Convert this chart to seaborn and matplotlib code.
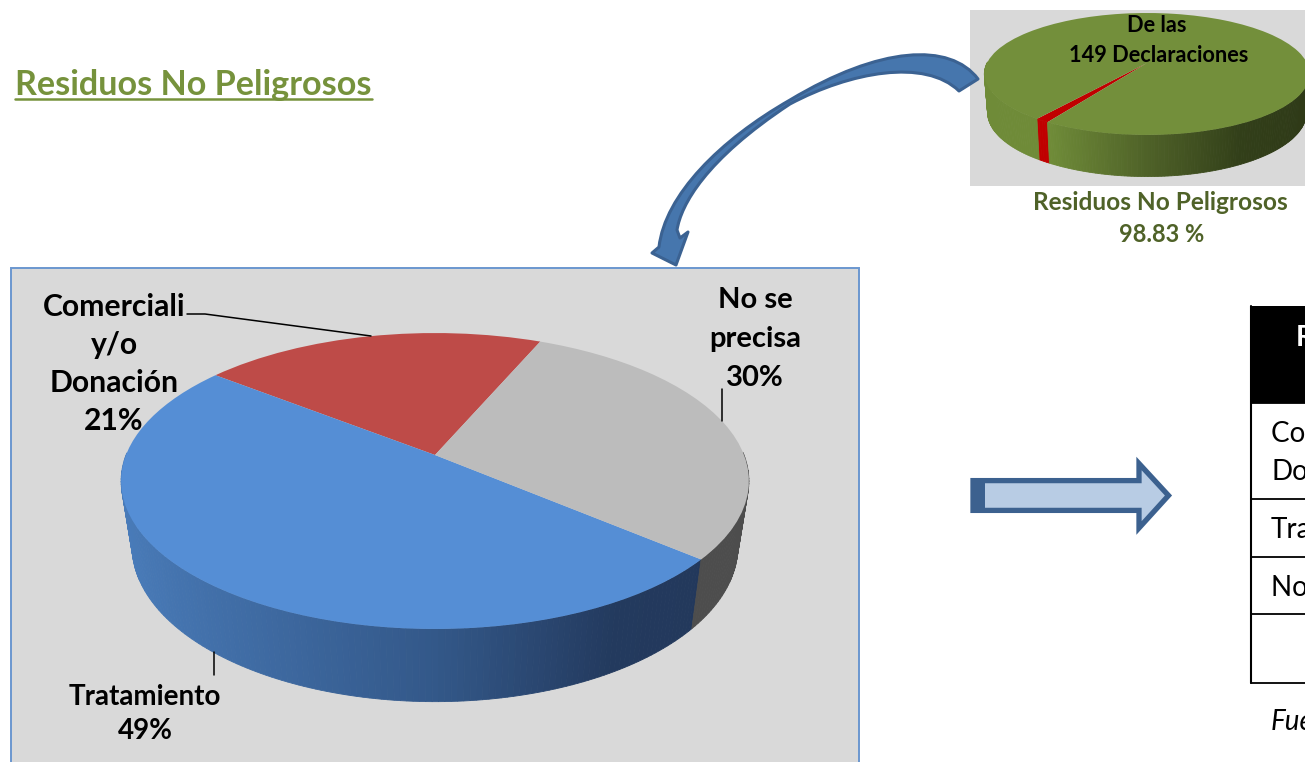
import numpy as np
import seaborn as sns
import matplotlib.pyplot as plt
from matplotlib.patches import PathPatch, Polygon, Rectangle
from matplotlib.path import Path
from matplotlib.transforms import Transform

# data
main_labels = ['Comerciali\ny/o\nDonación', 'Tratamiento', 'No se\nprecisa']
main_shares = [20.9, 49.4, 29.7]
small_names = ['Otros', 'Residuos No Peligrosos']
small_shares = [1.17, 98.83]
table_rows = ['Comercialización y/o\nDonación', 'Tratamiento', 'No se precisa']
table_header = 'Residuos'


class DiscMap(Transform):
    # unit circle -> tilted disc in pixels, near side bigger than far side
    input_dims = 2
    output_dims = 2
    is_separable = False

    def __init__(self, cx, cy, b, a, k, sx=1.0, sy=1.0, dy=0.0):
        super().__init__()
        self.p = (cx, cy, b, a, k, sx, sy, dy)

    def transform_non_affine(self, values):
        cx, cy, b, a, k, sx, sy, dy = self.p
        values = np.asarray(values)
        w = 1 + k * values[:, 1]
        return np.column_stack([cx + sx * b * values[:, 0] / w,
                                cy + dy - sy * a * values[:, 1] / w])


def draw_pie(ax, shares, start, colors, walls, top, bottom):
    wedges = ax.pie(shares, startangle=start, colors=colors,
                    wedgeprops={'linewidth': 0})[0]
    for w in wedges:
        w.set_transform(top + ax.transData)
        w.set_zorder(4)
    # side wall, cut in thin strips following the same angles
    angle = start
    for share, cmap in zip(shares, walls):
        span = 360 * share / sum(shares)
        edges = np.radians(np.linspace(angle, angle + span, max(int(span), 2) + 1))
        for t0, t1 in zip(edges[:-1], edges[1:]):
            if np.sin((t0 + t1) / 2) > 0.02:
                continue  # far side, hidden by the top
            unit = np.array([[np.cos(t0), np.sin(t0)], [np.cos(t1), np.sin(t1)]])
            a = top.transform_non_affine(unit)
            b = bottom.transform_non_affine(unit)
            c = cmap((np.cos((t0 + t1) / 2) + 1) / 2)
            ax.fill([a[0, 0], a[1, 0], b[1, 0], b[0, 0]],
                    [a[0, 1], a[1, 1], b[1, 1], b[0, 1]],
                    color=c, lw=0.6, zorder=3)
        angle += span


def main():
    sns.set_theme(style='white')
    plt.rcParams['font.family'] = ['Lato', 'DejaVu Sans']

    fig = plt.figure(figsize=(13.05, 7.62), dpi=100)
    ax = fig.add_axes([0, 0, 1, 1])

    # panels
    ax.add_patch(Rectangle((11, 268), 848, 520, fc='#d9d9d9', ec='#6b97cf', lw=1.4, zorder=1))
    ax.add_patch(Rectangle((970, 10), 340, 176, fc='#d9d9d9', ec='none', zorder=1))

    # big pie
    main_colors = sns.color_palette(['#be4b48', '#558ed5', '#bcbcbc'])
    main_walls = [sns.blend_palette(['#7d2f2d', '#7d2f2d'], as_cmap=True),
                  sns.blend_palette(['#4a7dbb', '#3f6ba3', '#335889', '#233a5e', '#22375a'], as_cmap=True),
                  sns.blend_palette(['#4d4d4d', '#4d4d4d'], as_cmap=True)]
    draw_pie(ax, main_shares, 66.7, main_colors, main_walls,
             DiscMap(435, 455, 309, 143.4, 0.1757),
             DiscMap(435, 455, 309, 143.4, 0.1757, sx=0.965, sy=1.05, dy=64))

    # small pie
    small_colors = sns.color_palette(['#c00000', '#738f3b'])
    small_walls = [sns.blend_palette(['#c00000', '#c00000'], as_cmap=True),
                   sns.blend_palette(['#6f8b38', '#6f8b38', '#4f6228', '#323f19', '#2e3917'], as_cmap=True)]
    draw_pie(ax, small_shares, 234.0, small_colors, small_walls,
             DiscMap(1147, 63, 160, 59, 0.18),
             DiscMap(1147, 63, 160, 59, 0.18, sx=0.98, sy=1.05, dy=38))

    ax.set_aspect('auto')
    ax.set_xlim(0, 1305)
    ax.set_ylim(762, 0)
    ax.set_frame_on(False)

    # heading
    ax.text(15, 85, 'Residuos No Peligrosos', color='#76923c', fontsize=24.6, fontweight='bold',
            va='center', ha='left', zorder=6)
    ax.plot([15, 372], [99, 99], color='#76923c', lw=1.8, zorder=6)

    # big pie labels
    lab = dict(color='black', fontweight='bold', ha='center', va='center', zorder=6)
    ax.text(114, 364, f'{main_labels[0]}\n{main_shares[0]:.0f}%', fontsize=21.7, linespacing=1.44, **lab)
    ax.text(755, 339, f'{main_labels[2]}\n{main_shares[2]:.0f}%', fontsize=21, linespacing=1.6, **lab)
    ax.text(145, 714, f'{main_labels[1]}\n{main_shares[1]:.0f}%', fontsize=20, linespacing=1.42, **lab)
    ax.plot([187, 205, 371], [314, 314, 336], color='black', lw=1.1, zorder=6)
    ax.plot([722, 722], [389, 421], color='black', lw=1.1, zorder=6)
    ax.plot([214, 214], [652, 675], color='black', lw=1.1, zorder=6)

    # small pie labels
    ax.text(1157, 26, 'De las', fontsize=15.7, **lab)
    ax.text(1159, 55, '149 Declaraciones', fontsize=15.7, **lab)
    sub = dict(color='#4f6228', fontweight='bold', ha='center', va='center', zorder=6)
    ax.text(1160, 203, small_names[1], fontsize=17.6, **sub)
    ax.text(1162, 235, f'{small_shares[1]} %', fontsize=17, **sub)

    # curved arrow
    C4 = Path.CURVE4
    verts = [(978, 79),
             (950, 42), (880, 46), (790, 100),
             (720, 140), (665, 195), (659, 247),
             (652, 253), (676, 265), (688, 232), (680, 238),
             (677, 230),
             (681, 205), (705, 160), (790, 104),
             (850, 72), (925, 58), (959, 91),
             (978, 79)]
    codes = [Path.MOVETO, C4, C4, C4, C4, C4, C4,
             Path.LINETO, Path.LINETO, Path.LINETO, Path.LINETO, Path.LINETO,
             C4, C4, C4, C4, C4, C4, Path.CLOSEPOLY]
    ax.add_patch(PathPatch(Path(verts, codes), fc='#4676ad', ec='#3b6292', lw=2.2,
                           joinstyle='round', zorder=5))

    # block arrow
    ax.add_patch(Polygon([(973, 480.6), (1139, 480.6), (1139, 463.5), (1168.5, 495.5),
                          (1139, 528), (1139, 510.4), (973, 510.4)],
                         closed=True, fc='#b8cce4', ec='#3c618f', lw=3.8, joinstyle='miter', zorder=5))
    ax.add_patch(Rectangle((971, 478), 14, 35, fc='#3c618f', ec='none', zorder=5))

    # table, runs off the page on the right
    ax.add_patch(Rectangle((1251, 306), 80, 97, fc='black', ec='none', zorder=5))
    ax.plot([1251, 1251], [306, 683], color='black', lw=1.5, zorder=5)
    for y in [403, 499, 557, 614, 683]:
        ax.plot([1251, 1320], [y, y], color='black', lw=1.3, zorder=5)
    ax.text(1296, 338, table_header, color='white', fontsize=20, fontweight='bold', ha='left', va='center', zorder=6)
    cell = dict(color='black', fontsize=20, ha='left', va='center', zorder=6)
    ax.text(1271, 453, table_rows[0], linespacing=1.6, **cell)
    ax.text(1271, 530, table_rows[1], **cell)
    ax.text(1271, 588, table_rows[2], **cell)
    ax.text(1271, 722, 'Fuente', fontstyle='italic', **cell)

    fig.savefig('out.png', dpi=100, facecolor='white')


if __name__ == "__main__":
    main()
